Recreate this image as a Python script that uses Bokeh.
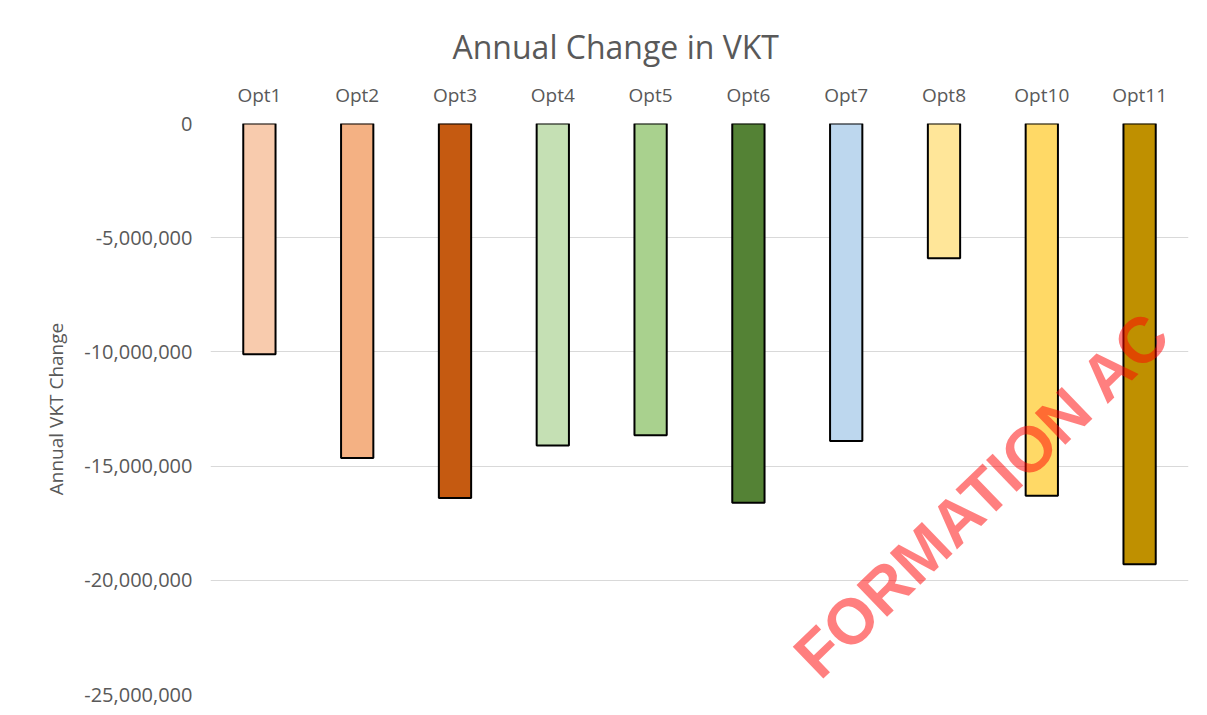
from bokeh.plotting import figure
from bokeh.models import FactorRange, Range1d, NumeralTickFormatter, Label, FixedTicker, ColumnDataSource
from bokeh.embed import file_html
from bokeh.resources import INLINE

# ---- data ----
options = ["Opt1", "Opt2", "Opt3", "Opt4", "Opt5", "Opt6", "Opt7", "Opt8", "Opt10", "Opt11"]
vkt_change = [-10100000, -14650000, -16400000, -14100000, -13650000,
              -16600000, -13900000, -5900000, -16300000, -19300000]
bar_colors = ["#F8CBAD", "#F4B183", "#C55A11", "#C5E0B4", "#A9D18E",
              "#548235", "#BDD7EE", "#FFE699", "#FFD966", "#BF9000"]
y_ticks = [0, -5000000, -10000000, -15000000, -20000000, -25000000]
title_text = "Annual Change in VKT"
y_label = "Annual VKT Change"
watermark = "FORMATION AC"

TXT = "#595959"
FONT = "Open Sans"

src = ColumnDataSource(dict(x=options, top=[0] * len(options), bottom=vkt_change, color=bar_colors))

p = figure(x_range=FactorRange(*options), y_range=Range1d(-25000000, 0),
           width=1207, height=715, output_backend="svg", toolbar_location=None,
           x_axis_location="above",
           min_border_left=210, min_border_right=19, min_border_top=123, min_border_bottom=21,
           background_fill_color="white", border_fill_color="white")
p.outline_line_color = None

p.vbar(x="x", top="top", bottom="bottom", width=0.33, fill_color="color",
       line_color="black", line_width=2, source=src)

# title
p.title.text = title_text
p.title.align = "left"
p.title.offset = 242
p.title.text_font = FONT
p.title.text_font_size = "32px"
p.title.text_font_style = "normal"
p.title.text_color = TXT
p.title.standoff = 22

# x axis (top)
xa = p.xaxis[0]
xa.axis_line_color = None
xa.major_tick_line_color = None
xa.minor_tick_line_color = None
xa.major_label_text_font = FONT
xa.major_label_text_font_size = "19px"
xa.major_label_text_color = TXT
xa.major_label_standoff = 10
p.xgrid.grid_line_color = None

# y axis
ya = p.yaxis[0]
ya.ticker = FixedTicker(ticks=y_ticks)
ya.formatter = NumeralTickFormatter(format="0,0")
ya.axis_line_color = None
ya.major_tick_line_color = None
ya.minor_tick_line_color = None
ya.major_label_text_font = FONT
ya.major_label_text_font_size = "20px"
ya.major_label_text_color = TXT
ya.major_label_standoff = 12
ya.axis_label = y_label
ya.axis_label_text_font = FONT
ya.axis_label_text_font_size = "19px"
ya.axis_label_text_font_style = "normal"
ya.axis_label_text_color = TXT
ya.axis_label_standoff = 12
p.ygrid.ticker = FixedTicker(ticks=y_ticks)
p.ygrid.grid_line_color = "#D9D9D9"
p.ygrid.grid_line_width = 1

# watermark stamp
wm = Label(x=7.89, y=-16240000, text=watermark, angle=0.768,
           text_align="center", text_baseline="middle",
           text_font="Liberation Sans", text_font_size="64px", text_font_style="bold",
           text_color="red", text_alpha=0.5)
p.add_layout(wm)

open("out.html", "w").write(file_html(p, INLINE))
